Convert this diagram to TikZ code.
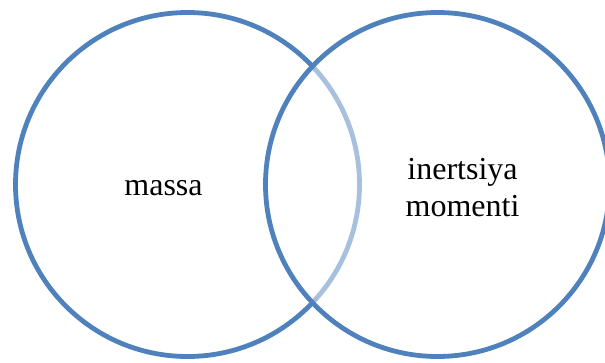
\documentclass[tikz,border=0pt]{standalone}
\usepackage{fontspec}
\setmainfont{Liberation Serif}
\definecolor{vblue}{HTML}{4F81BD}
\begin{document}
\begin{tikzpicture}[x=1pt,y=-1pt,
  venn/.style={circle, draw=vblue, line width=4.8pt, minimum size=344pt, inner sep=0pt},
  lbl/.style={font=\fontsize{32}{37}\selectfont, align=center, inner sep=0pt, anchor=base}]
\useasboundingbox (0,0) rectangle (605,362);
\clip (0,0) rectangle (605,362);
\node[venn] (L) at (187.5,184.5) {};
\node[venn, fill=white, fill opacity=0.5, draw opacity=1] (R) at (437.5,184.5) {};
\node[lbl] (tl) at (163.5,195) {massa};
\node[lbl] (tr1) at (462.5,179) {inertsiya};
\node[lbl] (tr2) at (462.5,216) {momenti};
\end{tikzpicture}
\end{document}
